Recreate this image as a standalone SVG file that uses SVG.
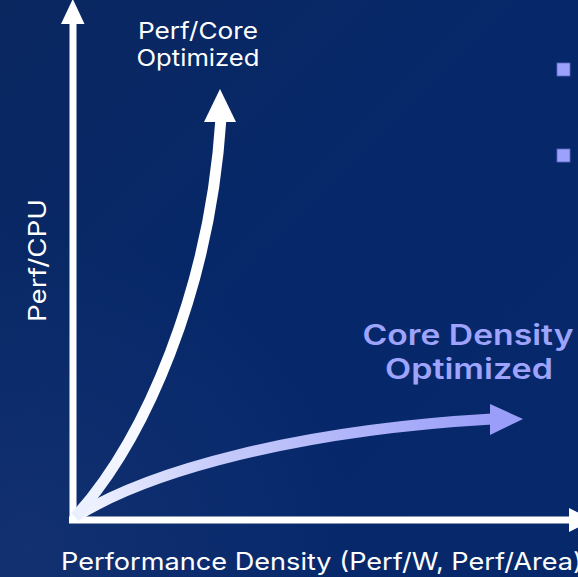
<svg xmlns="http://www.w3.org/2000/svg" width="578" height="577" viewBox="0 0 578 577">
  <defs>
    <linearGradient id="bg" x1="0" y1="0" x2="1" y2="1">
      <stop offset="0" stop-color="#0a2760"/>
      <stop offset="0.5" stop-color="#06286a"/>
      <stop offset="1" stop-color="#07296c"/>
    </linearGradient>
    <radialGradient id="glow" cx="0.05" cy="0.95" r="0.55">
      <stop offset="0" stop-color="#1c3775" stop-opacity="0.55"/>
      <stop offset="1" stop-color="#1c3775" stop-opacity="0"/>
    </radialGradient>
    <linearGradient id="densityStroke" gradientUnits="userSpaceOnUse" x1="75" y1="517" x2="492" y2="419">
      <stop offset="0" stop-color="#f4f7ff"/>
      <stop offset="0.35" stop-color="#c6cbfb"/>
      <stop offset="1" stop-color="#9a9ef8"/>
    </linearGradient>
    <linearGradient id="coreStroke" gradientUnits="userSpaceOnUse" x1="75" y1="517" x2="221" y2="122">
      <stop offset="0" stop-color="#e9efff"/>
      <stop offset="0.4" stop-color="#ffffff"/>
      <stop offset="1" stop-color="#ffffff"/>
    </linearGradient>
  </defs>
  <style>
    .axis { stroke: #ffffff; stroke-width: 7; fill: none; }
    .head-white { fill: #ffffff; }
    .head-violet { fill: #9a9ef8; }
    .curve { fill: none; stroke-width: 11; stroke-linecap: butt; }
    .label { font-family: "Inter", "Liberation Sans", sans-serif; fill: #ffffff; }
    .accent { font-family: "Inter", "Liberation Sans", sans-serif; font-weight: 600; fill: #9ea3fb; }
    .bullet { fill: #9ca1fb; stroke: #5a68c4; stroke-width: 0.8; }
  </style>

  <!-- backdrop -->
  <rect width="578" height="577" fill="url(#bg)"/>
  <rect width="578" height="577" fill="url(#glow)"/>

  <g id="connectors">
    <!-- vertical axis -->
    <line class="axis" x1="73" y1="523" x2="73" y2="20"/>
    <polygon class="head-white" points="61,24 84.5,24 72.8,-1"/>
    <!-- horizontal axis -->
    <line class="axis" x1="69" y1="520" x2="572" y2="520"/>
    <polygon class="head-white" points="569,508 569,532 593,520"/>
    <!-- performance density curve -->
    <path class="curve" stroke="url(#densityStroke)" d="M75,517 C150,470 300,430 492,419"/>
    <polygon class="head-violet" points="490,404 490,435 523,419"/>
    <!-- per-core performance curve -->
    <path class="curve" stroke="url(#coreStroke)" d="M75,517 C145,440 210,290 221,118"/>
    <polygon class="head-white" points="204,122 236,122 220,89"/>
  </g>

  <g id="label-perf-core">
    <text class="label" x="198" y="39" font-size="23" text-anchor="middle" textLength="120" lengthAdjust="spacingAndGlyphs">Perf/Core</text>
    <text class="label" x="198" y="66" font-size="23" text-anchor="middle" textLength="123" lengthAdjust="spacingAndGlyphs">Optimized</text>
  </g>

  <g id="label-core-density">
    <text class="accent" x="468" y="345" font-size="28" text-anchor="middle" textLength="211" lengthAdjust="spacingAndGlyphs">Core Density</text>
    <text class="accent" x="469" y="379" font-size="28" text-anchor="middle" textLength="168" lengthAdjust="spacingAndGlyphs">Optimized</text>
  </g>

  <g id="label-y-axis">
    <text class="label" transform="translate(46,322) rotate(-90)" font-size="24" textLength="123" lengthAdjust="spacingAndGlyphs">Perf/CPU</text>
  </g>

  <g id="label-x-axis">
    <text class="label" x="61" y="570" font-size="24" textLength="522" lengthAdjust="spacingAndGlyphs">Performance Density (Perf/W, Perf/Area)</text>
  </g>

  <g id="bullets">
    <rect class="bullet" x="557" y="63" width="13" height="13"/>
    <rect class="bullet" x="557" y="149" width="13" height="13"/>
  </g>
</svg>
